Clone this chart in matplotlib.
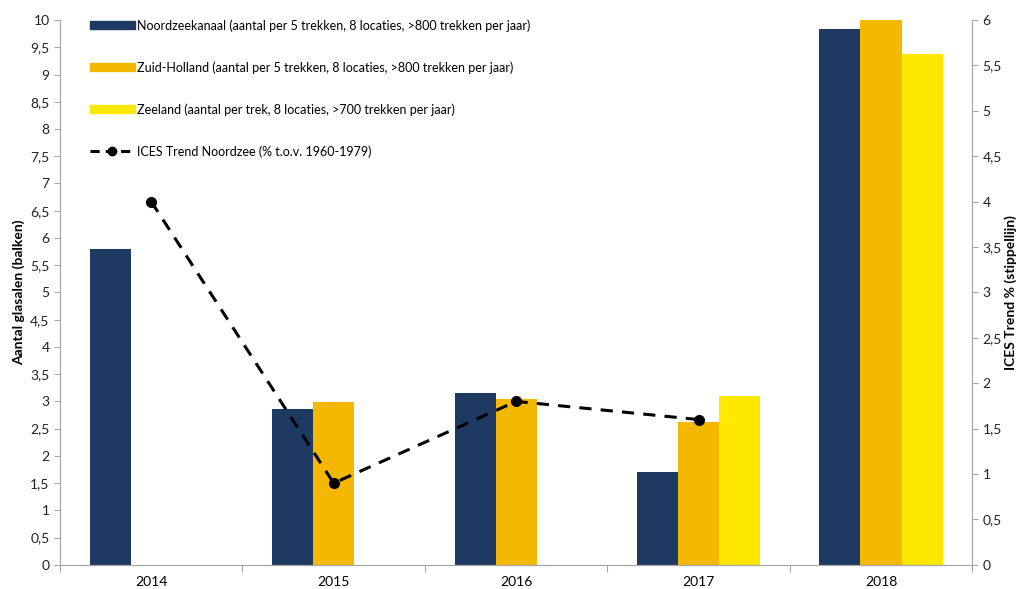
import numpy as np
import matplotlib
matplotlib.use("Agg")
import matplotlib.pyplot as plt
from matplotlib.ticker import FuncFormatter, MultipleLocator
from matplotlib.lines import Line2D
from matplotlib.patches import Patch

plt.rcParams['font.family'] = ['Lato', 'DejaVu Sans']

years = ['2014', '2015', '2016', '2017', '2018']
noordzeekanaal = [5.8, 2.86, 3.15, 1.70, 9.83]
zuid_holland = [np.nan, 2.99, 3.04, 2.62, 10.0]
zeeland = [np.nan, np.nan, np.nan, 3.10, 9.37]
ices_trend = [4.0, 0.9, 1.8, 1.6]

labels = ['Noordzeekanaal (aantal per 5 trekken, 8 locaties, >800 trekken per jaar)',
          'Zuid-Holland (aantal per 5 trekken, 8 locaties, >800 trekken per jaar)',
          'Zeeland (aantal per trek, 8 locaties, >700 trekken per jaar)',
          'ICES Trend Noordzee (% t.o.v. 1960-1979)']

navy = '#1f3a62'
orange = '#f5b800'
yellow = '#ffe800'
grey = '#a6a6a6'

fig = plt.figure(figsize=(10.18, 5.89), dpi=100)
ax = fig.add_axes([0.059, 0.041, 0.896, 0.925])
ax2 = ax.twinx()

x = np.arange(len(years))
w = 0.225
ax.bar(x - w, noordzeekanaal, w, color=navy)
ax.bar(x, zuid_holland, w, color=orange)
ax.bar(x + w, zeeland, w, color=yellow)

ax2.plot(x[:len(ices_trend)], ices_trend, color='black', linestyle=(0, (4, 3)),
         linewidth=2.2, marker='o', markersize=7)

comma = FuncFormatter(lambda v, p: ('%g' % v).replace('.', ','))

ax.set_xlim(-0.5, len(years) - 0.5)
ax.set_ylim(0, 10)
ax2.set_ylim(0, 6)
ax.yaxis.set_major_locator(MultipleLocator(0.5))
ax2.yaxis.set_major_locator(MultipleLocator(0.5))
ax.yaxis.set_major_formatter(comma)
ax2.yaxis.set_major_formatter(comma)

ax.set_xticks(np.arange(-0.5, len(years), 1.0))
ax.set_xticklabels([])
ax.set_xticks(x, minor=True)
ax.set_xticklabels(years, minor=True)
ax.tick_params(axis='x', which='minor', length=0, pad=8)
ax.tick_params(axis='x', which='major', length=5, color=grey)

for a in (ax, ax2):
    a.tick_params(axis='y', length=4, color=grey, labelsize=10, labelcolor='#222222')
    a.tick_params(axis='x', labelsize=10, labelcolor='#222222')
    for s in a.spines.values():
        s.set_color(grey)
    a.spines['top'].set_visible(False)

ax.set_ylabel('Aantal glasalen (balken)', fontweight='bold', fontsize=10, labelpad=4)
ax2.set_ylabel('ICES Trend % (stippellijn)', fontweight='bold', fontsize=10,
               rotation=90, labelpad=2)

handles = [Patch(color=navy), Patch(color=orange), Patch(color=yellow),
           Line2D([], [], color='black', linestyle=(0, (3, 2)), linewidth=2.2,
                  marker='o', markersize=6)]
ax2.legend(handles, labels, loc='upper left', bbox_to_anchor=(0.02, 1.022),
           frameon=False, fontsize=9, labelspacing=2.35, handlelength=3.6,
           handleheight=0.6, handletextpad=0.2)

fig.savefig('out.png', dpi=100)
